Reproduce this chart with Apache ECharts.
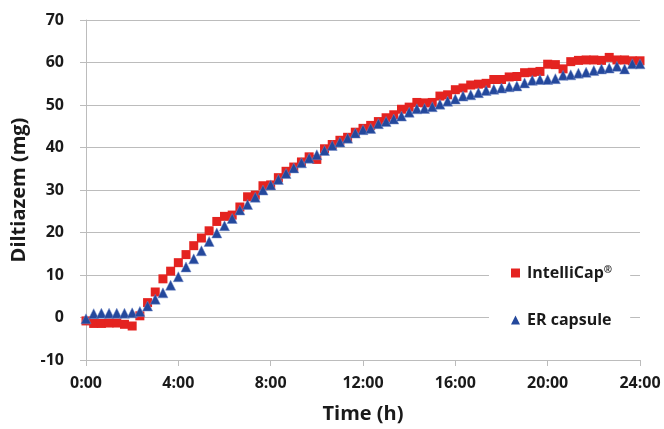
<!DOCTYPE html>
<html>
<head>
<meta charset="utf-8">
<script src="https://cdn.jsdelivr.net/npm/echarts@6/dist/echarts.min.js"></script>
<style>html,body{margin:0;padding:0;background:#fff}#c{width:664px;height:429px}</style>
</head>
<body>
<div id="c"></div>
<script>
// time points in minutes
var timesMin = [0,20,40,60,80,100,120,140,160,180,200,220,240,260,280,300,320,340,360,380,400,420,440,460,480,500,520,540,560,580,600,620,640,660,680,700,720,740,760,780,800,820,840,860,880,900,920,940,960,980,1000,1020,1040,1060,1080,1100,1120,1140,1160,1180,1200,1220,1240,1260,1280,1300,1320,1340,1360,1380,1400,1420,1440];
var intelliCap = [-0.8,-1.4,-1.4,-1.3,-1.3,-1.6,-2.0,0.4,3.5,6.0,9.1,10.9,12.9,14.8,16.9,18.7,20.4,22.6,23.8,24.1,26.0,28.4,28.8,31.0,31.2,32.9,34.4,35.4,36.6,37.8,37.2,39.7,40.7,41.7,42.4,43.6,44.5,45.2,46.1,47.0,47.7,49.0,49.5,50.6,50.5,50.6,52.1,52.4,53.6,54.0,54.7,54.9,55.1,56.0,56.0,56.6,56.7,57.6,57.7,57.9,59.6,59.5,58.5,60.2,60.5,60.6,60.6,60.5,61.2,60.6,60.6,60.4,60.4];
var erCapsule = [-0.3,0.9,1.0,1.0,1.0,1.0,1.1,1.4,2.7,4.3,5.8,7.6,9.6,11.9,13.8,15.7,17.9,19.9,21.6,23.3,25.3,26.6,28.3,30.0,31.2,32.5,33.9,35.2,36.4,37.5,38.3,39.3,40.5,41.3,42.2,43.4,44.2,44.5,45.6,46.1,46.7,47.4,48.3,49.1,49.2,49.6,50.2,50.9,51.4,52.1,52.4,52.9,53.4,53.7,54.0,54.3,54.5,55.2,55.8,56.0,56.0,56.2,57.0,57.1,57.5,57.7,58.1,58.5,58.7,59.1,58.5,59.7,59.7];
var xTickMinutes = [0,240,480,720,960,1200,1440];
var yTicks = [-10,0,10,20,30,40,50,60,70];

function pairs(xs, ys){ return xs.map(function(x,i){ return [x, ys[i]]; }); }

var font = 'Open Sans';
var ink = '#1a1a1a';
var chart = echarts.init(document.getElementById('c'));
chart.setOption({
  animation: false,
  textStyle: {fontFamily: font},
  grid: {left: 86, right: 24, top: 20, bottom: 67},
  xAxis: {
    type: 'value', min: xTickMinutes[0], max: xTickMinutes[xTickMinutes.length-1], interval: 240,
    name: 'Time (h)', nameLocation: 'middle', nameGap: 44,
    nameTextStyle: {fontFamily: font, fontWeight: 'bold', fontSize: 20, color: ink},
    axisLine: {show: true, onZero: false, lineStyle: {color: '#bcbcbc', width: 1}},
    axisTick: {show: true, length: 6, lineStyle: {color: '#bcbcbc'}},
    axisLabel: {margin: 15, fontFamily: font, fontWeight: 'bold', fontSize: 16, color: ink,
      formatter: function(v){ return (v/60) + ':00'; }},
    splitLine: {show: false}
  },
  yAxis: {
    type: 'value', min: yTicks[0], max: yTicks[yTicks.length-1], interval: 10,
    name: 'Diltiazem (mg)', nameLocation: 'middle', nameGap: 54,
    nameTextStyle: {fontFamily: font, fontWeight: 'bold', fontSize: 20, color: ink},
    axisLine: {show: true, lineStyle: {color: '#bcbcbc', width: 1}},
    axisTick: {show: true, length: 6, lineStyle: {color: '#bcbcbc'}},
    axisLabel: {margin: 22, fontFamily: font, fontWeight: 'bold', fontSize: 16, color: ink},
    splitLine: {show: true, lineStyle: {color: '#bcbcbc', width: 1}}
  },
  legend: {
    orient: 'vertical', left: 489, top: 257,
    backgroundColor: '#ffffff',
    padding: [8, 18, 8, 22],
    itemWidth: 9, itemHeight: 9, itemGap: 31,
    itemStyle: {borderWidth: 0},
    textStyle: {fontFamily: font, fontWeight: 'bold', fontSize: 16, color: ink, lineHeight: 16, padding: [0,0,0,2],
      rich: {r: {fontFamily: font, fontSize: 10, fontWeight: 'bold', color: ink, verticalAlign: 'top', padding: [0,0,8,0]}}},
    formatter: function(n){ return n === 'IntelliCap®' ? 'IntelliCap{r|®}' : n; },
    data: [{name: 'IntelliCap®', icon: 'rect'}, {name: 'ER capsule', icon: 'triangle'}]
  },
  series: [
    {name: 'IntelliCap®', type: 'scatter', symbol: 'rect', symbolSize: 9,
     itemStyle: {color: '#e42320', opacity: 1}, data: pairs(timesMin, intelliCap)},
    {name: 'ER capsule', type: 'scatter', symbol: 'triangle', symbolSize: 10,
     itemStyle: {color: '#24489c', opacity: 1, borderColor: '#6f86c4', borderWidth: 0.5}, data: pairs(timesMin, erCapsule)}
  ]
});
</script>
</body>
</html>
